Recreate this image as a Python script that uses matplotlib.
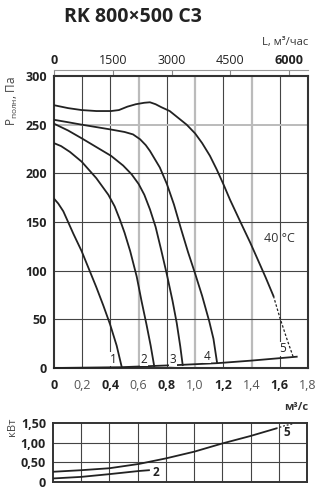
import matplotlib
matplotlib.use("Agg")
import matplotlib.pyplot as plt

plt.rcParams['font.family'] = ['Open Sans', 'DejaVu Sans']

# ---- data (m3/s , Pa) ----
c1_x = [0, 0.03, 0.066, 0.1, 0.137, 0.196, 0.255, 0.30, 0.35, 0.397, 0.444, 0.48]
c1_y = [174, 169, 161, 150, 138, 120, 99, 83, 64, 45, 23, 1]
c2_x = [0, 0.05, 0.113, 0.196, 0.30, 0.385, 0.43, 0.468, 0.50, 0.54, 0.586, 0.62, 0.655, 0.685, 0.71]
c2_y = [231, 228, 222, 212, 195, 178, 166, 152, 139, 120, 94, 69, 45, 23, 2]
c3_x = [0, 0.1, 0.196, 0.30, 0.404, 0.49, 0.55, 0.60, 0.64, 0.68, 0.72, 0.76, 0.80, 0.84, 0.87, 0.895, 0.912]
c3_y = [251, 244, 236, 227, 218, 208, 199, 189, 178, 163, 145, 121, 96, 69, 46, 22, 3]
c4_x = [0, 0.1, 0.196, 0.30, 0.404, 0.50, 0.56, 0.61, 0.65, 0.68, 0.75, 0.80, 0.85, 0.90, 0.95, 1.00, 1.05, 1.10, 1.13, 1.155]
c4_y = [255, 252.5, 250, 247.5, 245, 242.5, 240, 235, 229, 223, 206, 189, 168, 143, 119, 97, 74, 48, 30, 6]
c5_x = [0, 0.1, 0.196, 0.30, 0.404, 0.46, 0.52, 0.58, 0.64, 0.68, 0.72, 0.76, 0.82, 0.88, 0.94, 1.0, 1.05,
        1.105, 1.153, 1.2, 1.247, 1.318, 1.39, 1.436, 1.5, 1.555]
c5_y = [270, 267, 265, 264, 264, 265, 268.5, 271, 272.5, 273, 271, 268, 264, 257, 250, 241, 231,
        218, 204, 189, 173, 151, 129, 114, 93, 74]
c5d_x = [1.555, 1.60, 1.65, 1.696]
c5d_y = [74, 52, 30, 11]
base_x = [0, 0.47, 0.87, 1.16, 1.39, 1.72]
base_y = [0, 0.8, 3, 5, 7.5, 11.6]
labels_main = ['1', '2', '3', '4', '5']
lab_x = [0.418, 0.64, 0.845, 1.085, 1.62]
lab_y = [9, 9, 9, 12, 20]

# power (kW)
p5_x = [0, 0.2, 0.4, 0.61, 0.8, 1.0, 1.2, 1.4, 1.58]
p5_y = [0.26, 0.30, 0.35, 0.46, 0.60, 0.77, 0.98, 1.17, 1.36]
p5d_x = [1.58, 1.64, 1.70]
p5d_y = [1.36, 1.43, 1.48]
p2_x = [0, 0.2, 0.4, 0.61, 0.68]
p2_y = [0.09, 0.13, 0.20, 0.28, 0.30]

x_ticks = [0, 0.2, 0.4, 0.6, 0.8, 1.0, 1.2, 1.4, 1.6, 1.8]
x_ticklabels = ['0', '0,2', '0,4', '0,6', '0,8', '1,0', '1,2', '1,4', '1,6', '1,8']
y_ticks = [0, 50, 100, 150, 200, 250, 300]
top_ticks = [0, 1500, 3000, 4500, 6000]
p_ticks = [0, 0.5, 1.0, 1.5]
p_ticklabels = ['0', '0,50', '1,00', '1,50']

W, H = 330, 498
fig = plt.figure(figsize=(W / 100, H / 100), dpi=100)
dark = '#222222'
grey = '#bbbbbb'

def fx(px):
    return px / W

def fy(py):
    return 1 - py / H

ax = fig.add_axes([fx(54), fy(368), 254 / W, 292 / H])
ax.set_xlim(0, 1.8)
ax.set_ylim(0, 300)
for v in x_ticks[1:-1]:
    if v in (0.6, 1.0, 1.4):
        ax.axvline(v, color=grey, lw=1.6, zorder=1)
    else:
        ax.axvline(v, color='#444444', lw=0.8, zorder=1)
for v in y_ticks[1:-1]:
    if v == 250:
        ax.axhline(v, color=grey, lw=1.4, zorder=1)
    else:
        ax.axhline(v, color='#444444', lw=0.8, zorder=1)

lw = 1.3
for xs, ys in [(c1_x, c1_y), (c2_x, c2_y), (c3_x, c3_y), (c4_x, c4_y), (c5_x, c5_y)]:
    ax.plot(xs, ys, color=dark, lw=lw, zorder=3, solid_joinstyle='round')
ax.plot(c5d_x, c5d_y, color=dark, lw=0.9, ls=(0, (2, 1.5)), zorder=3)
ax.plot(base_x, base_y, color=dark, lw=1.3, zorder=3, clip_on=False)
for t, xx, yy in zip(labels_main, lab_x, lab_y):
    ax.text(xx, yy, t, fontsize=8.5, color=dark, ha='center', va='center', zorder=4,
            bbox=dict(facecolor='white', edgecolor='none', pad=0.3))
ax.text(1.6, 133, '40 °C', fontsize=9, color='#333333', ha='center', va='center')

ax.set_xticks(x_ticks)
ax.set_xticklabels(x_ticklabels)
ax.set_yticks(y_ticks)
ax.tick_params(axis='y', length=0, labelsize=9, colors='#222222', pad=5)
ax.tick_params(axis='x', length=0, labelsize=9, colors='#222222', pad=8)
for i, lbl in enumerate(ax.get_xticklabels()):
    lbl.set_fontweight('bold' if i % 2 == 0 else 'normal')
    lbl.set_color('#222222' if i % 2 == 0 else '#555555')
for lbl in ax.get_yticklabels():
    lbl.set_fontweight('bold')
for s in ax.spines.values():
    s.set_linewidth(1.5)
    s.set_color('#333333')

sec = ax.secondary_xaxis(1.02, functions=(lambda x: x * 3600, lambda x: x / 3600))
sec.set_xticks(top_ticks)
sec.tick_params(direction='in', length=4, width=0.8, colors='#888888', labelsize=9,
                labelcolor='#222222', pad=2)
sec.spines['top'].set_color('#999999')
sec.spines['top'].set_linewidth(0.8)
for i, lbl in enumerate(sec.get_xticklabels()):
    lbl.set_fontweight('bold' if i in (0, 4) else 'normal')

fig.text(fx(308), fy(43), 'L, м³/час', fontsize=8, ha='right', va='center', color='#333333')
fig.text(fx(133), fy(17), 'RK 800×500 C3', fontsize=14, fontweight='bold', ha='center',
         va='center', color='#222222')
fig.text(fx(12), fy(101), r'$\mathregular{P_{полн}}$, Па', fontsize=8.5, rotation=90,
         ha='center', va='center', color='#444444')
fig.text(fx(308), fy(407), 'м³/с', fontsize=8, fontweight='bold', ha='right', va='center',
         color='#333333')

# power panel
bx = fig.add_axes([fx(53), fy(482), 254 / W, 59 / H])
bx.set_xlim(0, 1.8)
bx.set_ylim(0, 1.5)
for v in x_ticks[1:-1]:
    bx.axvline(v, color='#444444', lw=0.8, zorder=1)
for v in (0.5, 1.0):
    bx.axhline(v, color='#444444', lw=0.8, zorder=1)
bx.plot(p5_x, p5_y, color=dark, lw=1.3, zorder=3)
bx.plot(p5d_x, p5d_y, color=dark, lw=0.9, ls=(0, (1.5, 1.5)), zorder=3, clip_on=False)
bx.plot(p2_x, p2_y, color=dark, lw=1.3, zorder=3)
bx.text(0.73, 0.25, '2', fontsize=8.5, fontweight='bold', ha='center', va='center', color=dark)
bx.text(1.66, 1.25, '5', fontsize=8.5, fontweight='bold', ha='center', va='center', color=dark)
bx.set_xticks([])
bx.set_yticks(p_ticks)
bx.set_yticklabels(p_ticklabels)
bx.tick_params(length=0, labelsize=9, colors='#222222', pad=5)
for lbl in bx.get_yticklabels():
    lbl.set_fontweight('bold')
for s in bx.spines.values():
    s.set_linewidth(1.4)
    s.set_color('#333333')
fig.text(fx(12), fy(427), 'кВт', fontsize=8, rotation=90, ha='center', va='center',
         color='#444444')

fig.savefig('out.png', dpi=100)
